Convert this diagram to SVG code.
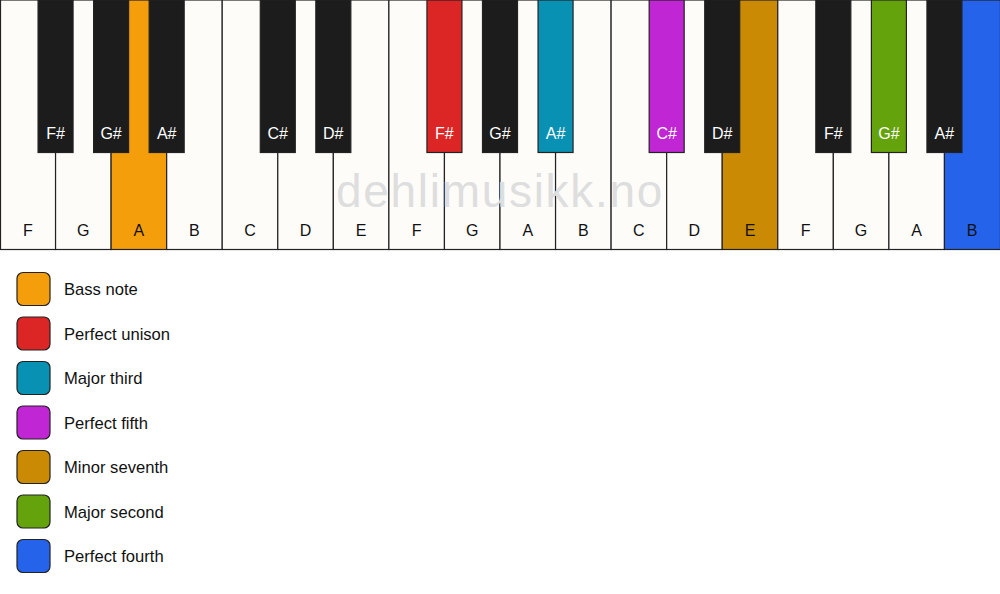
<svg xmlns="http://www.w3.org/2000/svg" width="1000" height="594" viewBox="0 0 1000 594">
<style>
.w{fill:#fdfcf9;stroke:#222;stroke-width:1.2}
.b{fill:#1c1c1c;stroke:#222;stroke-width:1.2}
.wl{font-family:"Liberation Sans",Arial,sans-serif;font-size:16px;fill:#111;text-anchor:middle}
.bl{font-family:"Liberation Sans",Arial,sans-serif;font-size:16px;fill:#fff;text-anchor:middle}
.lg{stroke:#222;stroke-width:1.2}
.lt{font-family:"Liberation Sans",Arial,sans-serif;font-size:16.6px;fill:#111}
.wm{font-family:"Liberation Sans",Arial,sans-serif;font-size:46px;fill:#dedede;text-anchor:middle;letter-spacing:1.7px}
</style>
<rect width="1000" height="594" fill="#ffffff"/>
<g id="white-keys">
<g id="w-F1"><rect class="w" x="0.5" y="0" width="55.06" height="249.5"/><text class="wl" x="27.8" y="236">F</text></g>
<g id="w-G1"><rect class="w" x="55.56" y="0" width="55.56" height="249.5"/><text class="wl" x="83.3" y="236">G</text></g>
<g id="w-A1"><rect class="w" x="111.11" y="0" width="55.56" height="249.5" style="fill:#f59e0b"/><text class="wl" x="138.9" y="236">A</text></g>
<g id="w-B1"><rect class="w" x="166.67" y="0" width="55.56" height="249.5"/><text class="wl" x="194.4" y="236">B</text></g>
<g id="w-C1"><rect class="w" x="222.22" y="0" width="55.56" height="249.5"/><text class="wl" x="250" y="236">C</text></g>
<g id="w-D1"><rect class="w" x="277.78" y="0" width="55.56" height="249.5"/><text class="wl" x="305.6" y="236">D</text></g>
<g id="w-E1"><rect class="w" x="333.33" y="0" width="55.56" height="249.5"/><text class="wl" x="361.1" y="236">E</text></g>
<g id="w-F2"><rect class="w" x="388.89" y="0" width="55.56" height="249.5"/><text class="wl" x="416.7" y="236">F</text></g>
<g id="w-G2"><rect class="w" x="444.44" y="0" width="55.56" height="249.5"/><text class="wl" x="472.2" y="236">G</text></g>
<g id="w-A2"><rect class="w" x="500" y="0" width="55.56" height="249.5"/><text class="wl" x="527.8" y="236">A</text></g>
<g id="w-B2"><rect class="w" x="555.56" y="0" width="55.56" height="249.5"/><text class="wl" x="583.3" y="236">B</text></g>
<g id="w-C2"><rect class="w" x="611.11" y="0" width="55.56" height="249.5"/><text class="wl" x="638.9" y="236">C</text></g>
<g id="w-D2"><rect class="w" x="666.67" y="0" width="55.56" height="249.5"/><text class="wl" x="694.4" y="236">D</text></g>
<g id="w-E2"><rect class="w" x="722.22" y="0" width="55.56" height="249.5" style="fill:#ca8a04"/><text class="wl" x="750" y="236">E</text></g>
<g id="w-F3"><rect class="w" x="777.78" y="0" width="55.56" height="249.5"/><text class="wl" x="805.6" y="236">F</text></g>
<g id="w-G3"><rect class="w" x="833.33" y="0" width="55.56" height="249.5"/><text class="wl" x="861.1" y="236">G</text></g>
<g id="w-A3"><rect class="w" x="888.89" y="0" width="55.56" height="249.5"/><text class="wl" x="916.7" y="236">A</text></g>
<g id="w-B3"><rect class="w" x="944.44" y="0" width="56" height="249.5" style="fill:#2563eb"/><text class="wl" x="972.2" y="236">B</text></g>
</g>
<text class="wm" x="500" y="207">dehlimusikk.no</text>
<g id="black-keys">
<g id="b-Fs1"><rect class="b" x="38.06" y="0" width="35" height="152.5"/><text class="bl" x="55.6" y="139">F#</text></g>
<g id="b-Gs1"><rect class="b" x="93.61" y="0" width="35" height="152.5"/><text class="bl" x="111.1" y="139">G#</text></g>
<g id="b-As1"><rect class="b" x="149.17" y="0" width="35" height="152.5"/><text class="bl" x="166.7" y="139">A#</text></g>
<g id="b-Cs1"><rect class="b" x="260.28" y="0" width="35" height="152.5"/><text class="bl" x="277.8" y="139">C#</text></g>
<g id="b-Ds1"><rect class="b" x="315.83" y="0" width="35" height="152.5"/><text class="bl" x="333.3" y="139">D#</text></g>
<g id="b-Fs2"><rect class="b" x="426.94" y="0" width="35" height="152.5" style="fill:#dc2626"/><text class="bl" x="444.4" y="139">F#</text></g>
<g id="b-Gs2"><rect class="b" x="482.5" y="0" width="35" height="152.5"/><text class="bl" x="500" y="139">G#</text></g>
<g id="b-As2"><rect class="b" x="538.06" y="0" width="35" height="152.5" style="fill:#0891b2"/><text class="bl" x="555.6" y="139">A#</text></g>
<g id="b-Cs2"><rect class="b" x="649.17" y="0" width="35" height="152.5" style="fill:#c026d3"/><text class="bl" x="666.7" y="139">C#</text></g>
<g id="b-Ds2"><rect class="b" x="704.72" y="0" width="35" height="152.5"/><text class="bl" x="722.2" y="139">D#</text></g>
<g id="b-Fs3"><rect class="b" x="815.83" y="0" width="35" height="152.5"/><text class="bl" x="833.3" y="139">F#</text></g>
<g id="b-Gs3"><rect class="b" x="871.39" y="0" width="35" height="152.5" style="fill:#65a30d"/><text class="bl" x="888.9" y="139">G#</text></g>
<g id="b-As3"><rect class="b" x="926.94" y="0" width="35" height="152.5"/><text class="bl" x="944.4" y="139">A#</text></g>
</g>
<g id="legend">
<g id="lg-bass"><rect class="lg" x="17" y="272.5" width="33" height="33" rx="6" fill="#f59e0b"/><text class="lt" x="64" y="295">Bass note</text></g>
<g id="lg-unison"><rect class="lg" x="17" y="317" width="33" height="33" rx="6" fill="#dc2626"/><text class="lt" x="64" y="339.5">Perfect unison</text></g>
<g id="lg-third"><rect class="lg" x="17" y="361.5" width="33" height="33" rx="6" fill="#0891b2"/><text class="lt" x="64" y="384">Major third</text></g>
<g id="lg-fifth"><rect class="lg" x="17" y="406" width="33" height="33" rx="6" fill="#c026d3"/><text class="lt" x="64" y="428.5">Perfect fifth</text></g>
<g id="lg-seventh"><rect class="lg" x="17" y="450.5" width="33" height="33" rx="6" fill="#ca8a04"/><text class="lt" x="64" y="473">Minor seventh</text></g>
<g id="lg-second"><rect class="lg" x="17" y="495" width="33" height="33" rx="6" fill="#65a30d"/><text class="lt" x="64" y="517.5">Major second</text></g>
<g id="lg-fourth"><rect class="lg" x="17" y="539.5" width="33" height="33" rx="6" fill="#2563eb"/><text class="lt" x="64" y="562">Perfect fourth</text></g>
</g>
</svg>
